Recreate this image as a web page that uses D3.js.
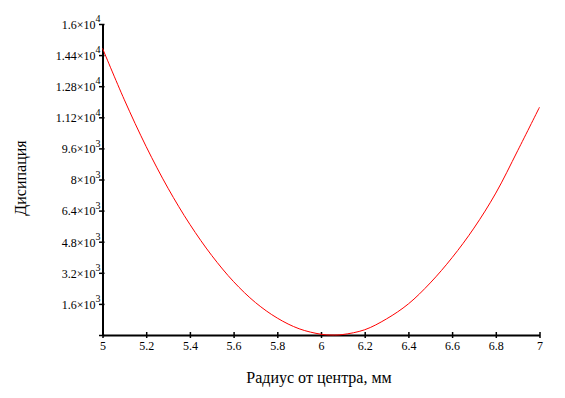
<!DOCTYPE html>
<html>
<head>
<meta charset="utf-8">
<script src="https://cdn.jsdelivr.net/npm/d3@7"></script>
<style>
  body { margin: 0; background: #fff; }
  svg { display: block; }
</style>
</head>
<body>
<div class="chart"></div>
<script>
// радиус, мм
const radius = [5, 5.1, 5.2, 5.3, 5.4, 5.5, 5.6, 5.7, 5.8, 5.9, 6, 6.05, 6.1, 6.2, 6.3, 6.4, 6.5, 6.6, 6.7, 6.8, 6.9, 7];
// дисипация
const dissipation = [14750, 12100, 9690, 7550, 5690, 4090, 2745, 1670, 870, 320, 40, 0, 25, 270, 830, 1600, 2680, 3980, 5500, 7300, 9480, 11720];
const xTicks = [5, 5.2, 5.4, 5.6, 5.8, 6, 6.2, 6.4, 6.6, 6.8, 7];
const yTicks = [0, 1600, 3200, 4800, 6400, 8000, 9600, 11200, 12800, 14400, 16000];
const xTitle = "Радиус от центра, мм";
const yTitle = "Дисипация";

const FONT = '"Liberation Serif", "Times New Roman", Times, serif';

let config = {
  W: 565, H: 398,
  left: 102.5, right: 539.5,
  top: 24, bottom: 335
};

let svg = d3.select('.chart').append('svg')
  .attr('width', config.W)
  .attr('height', config.H)
  .style('font-family', FONT);

let x = d3.scaleLinear().domain([5, 7]).range([config.left, config.right]);
let y = d3.scaleLinear().domain([0, 16000]).range([config.bottom, config.top]);

// x axis
let gx = svg.append('g')
  .attr('transform', `translate(0, ${config.bottom})`)
  .call(d3.axisBottom(x).tickValues(xTicks).tickSizeOuter(0).tickFormat(d => d3.format('~g')(d)))
  .attr('font-family', FONT);
gx.select('.domain').attr('stroke', '#000').attr('stroke-width', 2);
gx.selectAll('.tick line').attr('y1', -3).attr('y2', 3).attr('stroke-width', 1.5);
gx.selectAll('.tick text')
  .attr('y', 14.5).attr('dy', null)
  .style('font-family', FONT)
  .style('font-size', '12px');

// y axis
let gy = svg.append('g')
  .attr('transform', `translate(${config.left}, 0)`)
  .call(d3.axisLeft(y).tickValues(yTicks).tickSizeOuter(0).tickFormat(''))
  .attr('font-family', FONT);
gy.select('.domain').attr('stroke', '#000').attr('stroke-width', 2);
gy.selectAll('.tick line').attr('x1', -3.5).attr('x2', 2).attr('stroke-width', 1.5);

// labels like 1.6×10^4
gy.selectAll('.tick').each(function (d) {
  if (d === 0) return;
  let e = Math.floor(Math.log10(d));
  let m = +(d / Math.pow(10, e)).toFixed(2);
  let t = d3.select(this).select('text')
    .attr('x', -2).attr('dy', null).attr('y', 4.3)
    .attr('text-anchor', 'end')
    .style('font-family', FONT)
    .style('font-size', '12px');
  t.append('tspan').text(m + '×10');
  t.append('tspan').attr('dy', -6.6).style('font-size', '10px').text(e);
});

// titles
svg.append('text')
  .attr('x', 319).attr('y', 382.7)
  .attr('text-anchor', 'middle')
  .style('font-family', FONT)
  .style('font-size', '16px')
  .text(xTitle);
svg.append('text')
  .attr('transform', 'translate(25.5, 178) rotate(-90)')
  .attr('text-anchor', 'middle')
  .style('font-family', FONT)
  .style('font-size', '16px')
  .text(yTitle);

// curve
let line = d3.line()
  .x((d, i) => x(radius[i]))
  .y(d => y(d))
  .curve(d3.curveCatmullRom);
svg.append('path')
  .datum(dissipation)
  .attr('fill', 'none')
  .attr('stroke', '#ff0000')
  .attr('stroke-width', 1)
  .attr('d', line);
</script>
</body>
</html>
